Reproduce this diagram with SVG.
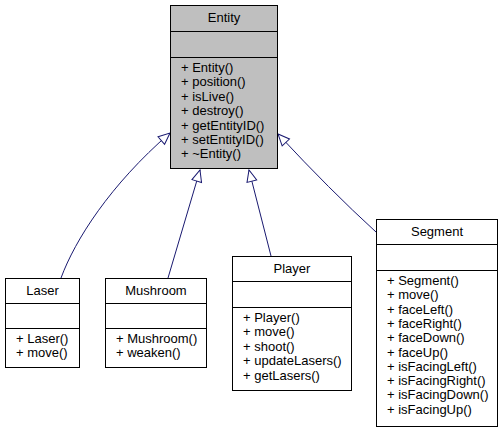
<svg xmlns="http://www.w3.org/2000/svg" width="504" height="433" viewBox="0 0 504 433">
<style>
text{font-family:"Liberation Sans",Arial,sans-serif;font-size:13px;fill:#000}
.t{text-anchor:middle}
.box{fill:#fff;stroke:#000;stroke-width:1}
.main{fill:#bfbfbf}
.sep{stroke:#000;stroke-width:1}
.edge{fill:none;stroke:#191970;stroke-width:1}
</style>
<defs>
<marker id="inh" markerUnits="userSpaceOnUse" markerWidth="14" markerHeight="12" refX="12" refY="5.5" orient="auto" overflow="visible">
<path d="M0.5,0.5 L12,5.5 L0.5,10.5 Z" fill="#fff" stroke="#191970" stroke-width="1"/>
</marker>
</defs>
<rect width="504" height="433" fill="#fff"/>
<g id="connectors">
<path class="edge" d="M61,278 C75,240 110,185 170,133" marker-end="url(#inh)"/>
<path class="edge" d="M168,278 L200,170" marker-end="url(#inh)"/>
<path class="edge" d="M271,256 L249,170" marker-end="url(#inh)"/>
<path class="edge" d="M376,232 Q330,190 278,134" marker-end="url(#inh)"/>
</g>
<g id="Entity">
<rect class="box main" x="170.5" y="5.5" width="107" height="163"/>
<line class="sep" x1="170.5" y1="31.5" x2="277.5" y2="31.5"/>
<line class="sep" x1="170.5" y1="57.5" x2="277.5" y2="57.5"/>
<text class="t" x="224" y="22">Entity</text>
<text x="181" y="72">+ Entity()</text>
<text x="181" y="86.4">+ position()</text>
<text x="181" y="100.8">+ isLive()</text>
<text x="181" y="115.2">+ destroy()</text>
<text x="181" y="129.6">+ getEntityID()</text>
<text x="181" y="144">+ setEntityID()</text>
<text x="181" y="158.4">+ ~Entity()</text>
</g>
<g id="Laser">
<rect class="box" x="5.5" y="278.5" width="74" height="89"/>
<line class="sep" x1="5.5" y1="303.5" x2="79.5" y2="303.5"/>
<line class="sep" x1="5.5" y1="328.5" x2="79.5" y2="328.5"/>
<text class="t" x="42.5" y="295">Laser</text>
<text x="16" y="343">+ Laser()</text>
<text x="16" y="357.4">+ move()</text>
</g>
<g id="Mushroom">
<rect class="box" x="105.5" y="278.5" width="101" height="89"/>
<line class="sep" x1="105.5" y1="303.5" x2="206.5" y2="303.5"/>
<line class="sep" x1="105.5" y1="328.5" x2="206.5" y2="328.5"/>
<text class="t" x="156" y="295">Mushroom</text>
<text x="116" y="343">+ Mushroom()</text>
<text x="116" y="357.4">+ weaken()</text>
</g>
<g id="Player">
<rect class="box" x="232.5" y="256.5" width="119" height="134"/>
<line class="sep" x1="232.5" y1="281.5" x2="351.5" y2="281.5"/>
<line class="sep" x1="232.5" y1="307.5" x2="351.5" y2="307.5"/>
<text class="t" x="292" y="273">Player</text>
<text x="243" y="322">+ Player()</text>
<text x="243" y="336.4">+ move()</text>
<text x="243" y="350.8">+ shoot()</text>
<text x="243" y="365.2">+ updateLasers()</text>
<text x="243" y="379.6">+ getLasers()</text>
</g>
<g id="Segment">
<rect class="box" x="376.5" y="219.5" width="121" height="207"/>
<line class="sep" x1="376.5" y1="244.5" x2="497.5" y2="244.5"/>
<line class="sep" x1="376.5" y1="270.5" x2="497.5" y2="270.5"/>
<text class="t" x="437" y="236">Segment</text>
<text x="387" y="285">+ Segment()</text>
<text x="387" y="299.3">+ move()</text>
<text x="387" y="313.6">+ faceLeft()</text>
<text x="387" y="327.9">+ faceRight()</text>
<text x="387" y="342.2">+ faceDown()</text>
<text x="387" y="356.5">+ faceUp()</text>
<text x="387" y="370.8">+ isFacingLeft()</text>
<text x="387" y="385.1">+ isFacingRight()</text>
<text x="387" y="399.4">+ isFacingDown()</text>
<text x="387" y="413.7">+ isFacingUp()</text>
</g>
</svg>
